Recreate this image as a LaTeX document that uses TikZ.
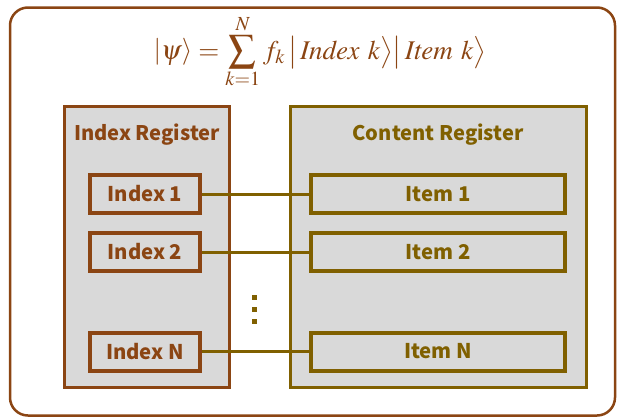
\documentclass[tikz,border=0pt]{standalone}
\usepackage{amsmath}
\usepackage{mathptmx}
\usepackage[no-math]{fontspec}
\newfontfamily\labfont{Noto Sans CJK SC}
\definecolor{idxbrown}{RGB}{139,69,19}
\definecolor{cntolive}{RGB}{128,96,0}
\definecolor{regfill}{RGB}{217,217,217}
\tikzset{
  frame/.style={draw=idxbrown, line width=2.5pt, rounded corners=18pt},
  idxreg/.style={draw=idxbrown, fill=regfill, line width=2.6pt},
  cntreg/.style={draw=cntolive, fill=regfill, line width=2.6pt},
  regtitle/.style={font=\labfont\bfseries\fontsize{20.1}{23}\selectfont},
  idxbox/.style={draw=idxbrown, text=idxbrown, line width=4pt, minimum width=110pt,
    minimum height=38pt, inner sep=0pt, font=\labfont\bfseries\fontsize{20.3}{23}\selectfont},
  itembox/.style={draw=cntolive, text=cntolive, line width=4pt, minimum width=254pt,
    minimum height=38pt, inner sep=0pt, font=\labfont\bfseries\fontsize{20.3}{23}\selectfont},
  link/.style={draw=cntolive, line width=3pt},
  dotmark/.style={fill=cntolive, minimum size=5pt, inner sep=0pt}
}
\begin{document}
\begin{tikzpicture}[x=1pt, y=-1pt]
\useasboundingbox (0,0) rectangle (617,418);
% outer frame
\draw[frame] (10,7.5) rectangle (615,415.5);
% state formula
\node[anchor=base, text=idxbrown, font=\fontsize{27}{31}\selectfont, inner sep=0pt] (formula) at (320,59)
  {$\displaystyle \left|\psi\right\rangle = \sum_{\smash[t]{k=1}}^{\smash[b]{N}} f_k \,\big|\,\mathit{Index}\ k\big\rangle\big|\,\mathit{Item}\ k\big\rangle$};
% registers
\draw[idxreg] (64.3,106.3) rectangle (229.7,387.7);
\draw[cntreg] (290.3,106.3) rectangle (586.7,387.7);
\node[regtitle, text=idxbrown] (idxtitle) at (147,135) {Index Register};
\node[regtitle, text=cntolive] (cnttitle) at (438,135) {Content Register};
% index cells
\node[idxbox] (i1) at (145,194) {Index 1};
\node[idxbox] (i2) at (145,252) {Index 2};
\node[idxbox] (iN) at (145,351.5) {Index N};
% content cells
\node[itembox] (c1) at (438,194) {Item 1};
\node[itembox] (c2) at (438,252) {Item 2};
\node[itembox] (cN) at (438,351.5) {Item N};
% links between index and item
\draw[link] (i1.east) -- (c1.west);
\draw[link] (i2.east) -- (c2.west);
\draw[link] (iN.east) -- (cN.west);
% vertical ellipsis
\node[dotmark] (d1) at (254,297) {};
\node[dotmark] (d2) at (254,309) {};
\node[dotmark] (d3) at (254,321) {};
\end{tikzpicture}
\end{document}
